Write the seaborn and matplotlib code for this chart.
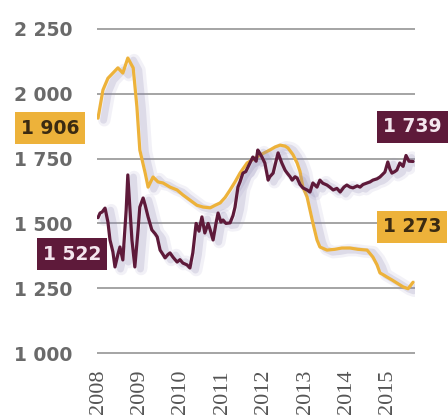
import matplotlib
matplotlib.use("Agg")
import matplotlib.pyplot as plt
import matplotlib.patheffects as pe
from matplotlib.font_manager import FontProperties
import numpy as np
import pandas as pd
import seaborn as sns

# Price series (decimal year, value)
gold_years = [2008.00, 2008.12, 2008.24, 2008.36, 2008.48, 2008.60, 2008.72, 2008.85, 2008.94,
              2009.01, 2009.14, 2009.21, 2009.33, 2009.45, 2009.57, 2009.74, 2009.91, 2010.05,
              2010.22, 2010.39, 2010.54, 2010.71, 2010.83, 2010.95, 2011.07, 2011.19, 2011.31,
              2011.43, 2011.60, 2011.72, 2011.84, 2011.99, 2012.15, 2012.28, 2012.40, 2012.52,
              2012.59, 2012.71, 2012.81, 2012.88, 2012.95, 2013.05, 2013.12, 2013.19, 2013.29,
              2013.36, 2013.53, 2013.72, 2013.89, 2014.09, 2014.28, 2014.50, 2014.64, 2014.74,
              2014.81, 2014.91, 2014.98, 2015.10, 2015.22, 2015.37, 2015.49, 2015.61]
gold_values = [1906, 2015, 2060, 2080, 2100, 2080, 2138, 2100, 1949,
               1783, 1694, 1640, 1679, 1660, 1656, 1640, 1629, 1610,
               1590, 1570, 1563, 1560, 1570, 1579, 1600, 1629, 1660,
               1694, 1733, 1745, 1756, 1770, 1783, 1795, 1802, 1798,
               1791, 1765, 1733, 1700, 1640, 1602, 1552, 1502, 1436,
               1409, 1397, 1400, 1405, 1405, 1400, 1397, 1370, 1340,
               1309, 1300, 1293, 1282, 1270, 1255, 1248, 1273]

maroon_years = [2008.00, 2008.05, 2008.10, 2008.17, 2008.24, 2008.29, 2008.36, 2008.41, 2008.48,
                2008.53, 2008.60, 2008.68, 2008.72, 2008.77, 2008.82, 2008.89, 2008.97, 2009.01,
                2009.09, 2009.14, 2009.21, 2009.30, 2009.38, 2009.43, 2009.50, 2009.57, 2009.62,
                2009.69, 2009.74, 2009.81, 2009.91, 2009.98, 2010.05, 2010.15, 2010.22, 2010.29,
                2010.37, 2010.44, 2010.51, 2010.58, 2010.66, 2010.71, 2010.78, 2010.85, 2010.90,
                2010.97, 2011.02, 2011.09, 2011.19, 2011.26, 2011.31, 2011.38, 2011.43, 2011.50,
                2011.57, 2011.67, 2011.74, 2011.82, 2011.86, 2011.91, 2011.96, 2012.03, 2012.11,
                2012.15, 2012.23, 2012.30, 2012.35, 2012.40, 2012.44, 2012.52, 2012.57, 2012.64,
                2012.69, 2012.76, 2012.81, 2012.88, 2012.95, 2013.05, 2013.12, 2013.19, 2013.29,
                2013.36, 2013.43, 2013.53, 2013.60, 2013.68, 2013.77, 2013.85, 2013.94, 2014.01,
                2014.09, 2014.16, 2014.26, 2014.33, 2014.40, 2014.50, 2014.57, 2014.64, 2014.74,
                2014.81, 2014.88, 2014.93, 2015.00, 2015.05, 2015.10, 2015.17, 2015.22, 2015.29,
                2015.37, 2015.44, 2015.51, 2015.61]
maroon_values = [1522, 1540, 1544, 1559, 1505, 1436, 1390, 1332, 1380,
                 1409, 1359, 1550, 1687, 1560, 1436, 1332, 1480, 1563,
                 1598, 1570, 1525, 1475, 1460, 1448, 1397, 1380, 1367,
                 1380, 1386, 1370, 1351, 1360, 1347, 1340, 1328, 1386,
                 1500, 1470, 1525, 1463, 1500, 1475, 1436, 1500, 1540,
                 1505, 1513, 1500, 1502, 1530, 1563, 1640, 1660, 1694,
                 1700, 1733, 1756, 1740, 1783, 1770, 1756, 1733, 1667,
                 1680, 1694, 1740, 1772, 1750, 1733, 1705, 1694, 1680,
                 1667, 1680, 1675, 1650, 1637, 1629, 1621, 1656, 1640,
                 1667, 1655, 1648, 1640, 1629, 1635, 1621, 1640, 1648,
                 1640, 1637, 1645, 1640, 1650, 1656, 1660, 1667, 1672,
                 1679, 1690, 1698, 1737, 1710, 1694, 1700, 1706, 1733,
                 1720, 1762, 1740, 1739]

y_ticks = [1000, 1250, 1500, 1750, 2000, 2250]
year_ticks = [2008, 2009, 2010, 2011, 2012, 2013, 2014, 2015]

GOLD = "#EDB23A"
MAROON = "#5E1A3A"
GRID = "#8c8c8c"

df = pd.concat([
    pd.DataFrame({"year": gold_years, "value": gold_values, "series": "gold"}),
    pd.DataFrame({"year": maroon_years, "value": maroon_values, "series": "maroon"}),
], ignore_index=True)

sns.set_theme(style="white")
plt.rcParams["font.family"] = ["DejaVu Sans"]

W, H = 448, 418
fig = plt.figure(figsize=(W / 100, H / 100), dpi=100)
fig.patch.set_facecolor("white")

def px(x0, y0, x1, y1):
    return [x0 / W, 1 - y1 / H, (x1 - x0) / W, (y1 - y0) / H]

ax = fig.add_axes(px(97, 26, 415, 356))
ax.set_facecolor("white")

sns.lineplot(data=df, x="year", y="value", hue="series", hue_order=["gold", "maroon"],
             palette={"gold": GOLD, "maroon": MAROON}, estimator=None, sort=False,
             linewidth=2.3, legend=False, ax=ax, zorder=3)

shadow = [
    pe.SimpleLineShadow(offset=(4.5, -1.5), shadow_color="#9a94c0", alpha=0.12, linewidth=9),
    pe.SimpleLineShadow(offset=(4, -1.5), shadow_color="#8a84b0", alpha=0.2, linewidth=5),
    pe.Normal(),
]
for line in ax.lines:
    line.set_path_effects(shadow)
    line.set_solid_joinstyle("round")

# horizontal guides
ax.set_ylim(1000 - 3 * 3.858, 2250 + 3 * 3.858)
ax.set_xlim(2008 - 1 / 41.4, 2008 + 317 / 41.4)
for v in y_ticks:
    ax.axhline(v, color=GRID, lw=1.1, zorder=1)

for s in ax.spines.values():
    s.set_visible(False)
ax.grid(False)
ax.set_xlabel("")
ax.set_ylabel("")

ax.tick_params(axis="y", length=0, pad=18)
ax.tick_params(axis="x", length=0, pad=10)

ax.set_yticks(y_ticks)
ax.set_yticklabels([f"{v:,}".replace(",", " ") for v in y_ticks],
                   fontproperties=FontProperties(family="DejaVu Sans", weight="bold", size=13.5),
                   color="#6a6a6a")

ax.set_xticks(year_ticks)
ax.set_xticklabels([str(y) for y in year_ticks], rotation=90,
                   fontproperties=FontProperties(family="Liberation Serif", size=16),
                   color="#555555")

def fmt(v):
    return f"{v:,}".replace(",", " ")

def tag(cx, cy, value, face, txt):
    fig.text(cx / W, 1 - cy / H, fmt(value), ha="center", va="center",
             fontsize=13.5, fontweight="bold", color=txt,
             bbox=dict(boxstyle="square,pad=0.33", fc=face, ec="none"))

tag(50, 128, gold_values[0], GOLD, "#3a2a12")
tag(72, 254, maroon_values[0], MAROON, "#f4e6ee")
tag(412, 127, maroon_values[-1], MAROON, "#f4e6ee")
tag(412, 227, gold_values[-1], GOLD, "#3a2a12")

fig.savefig("out.png", dpi=100, facecolor="white")
